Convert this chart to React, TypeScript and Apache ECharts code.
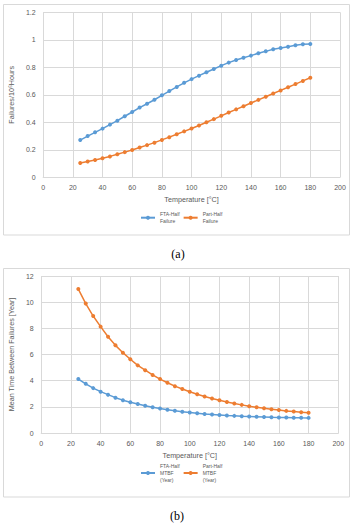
import React, { useEffect, useRef } from "react";
import * as echarts from "echarts";

const temperatures = [25, 30, 35, 40, 45, 50, 55, 60, 65, 70, 75, 80, 85, 90, 95, 100, 105, 110, 115, 120, 125, 130, 135, 140, 145, 150, 155, 160, 165, 170, 175, 180];

const ftaHalfFailure = [0.271, 0.3, 0.327, 0.354, 0.383, 0.412, 0.444, 0.475, 0.507, 0.535, 0.564, 0.596, 0.627, 0.657, 0.687, 0.714, 0.739, 0.764, 0.788, 0.812, 0.834, 0.853, 0.87, 0.885, 0.902, 0.916, 0.931, 0.94, 0.95, 0.96, 0.967, 0.969];
const partHalfFailure = [0.104, 0.115, 0.126, 0.138, 0.152, 0.167, 0.183, 0.199, 0.217, 0.234, 0.252, 0.272, 0.292, 0.313, 0.334, 0.355, 0.377, 0.4, 0.423, 0.447, 0.471, 0.494, 0.517, 0.54, 0.563, 0.586, 0.609, 0.632, 0.655, 0.678, 0.701, 0.724];

const ftaHalfMtbf = [4.12, 3.76, 3.43, 3.16, 2.93, 2.7, 2.51, 2.35, 2.21, 2.08, 1.97, 1.87, 1.78, 1.7, 1.63, 1.57, 1.51, 1.46, 1.42, 1.38, 1.34, 1.31, 1.28, 1.26, 1.24, 1.22, 1.2, 1.19, 1.18, 1.17, 1.16, 1.155];
const partHalfMtbf = [11.0, 9.89, 8.94, 8.13, 7.36, 6.7, 6.14, 5.64, 5.17, 4.8, 4.44, 4.12, 3.84, 3.58, 3.36, 3.15, 2.96, 2.79, 2.63, 2.5, 2.37, 2.25, 2.15, 2.05, 1.97, 1.89, 1.82, 1.76, 1.69, 1.64, 1.59, 1.54];

const seriesNamesA = ["FTA-Half\nFailure", "Part-Half\nFailure"];
const seriesNamesB = ["FTA-Half\nMTBF\n(Year)", "Part-Half\nMTBF\n(Year)"];
const xAxisTitle = "Temperature [°C]";
const yAxisTitleA = "Failures/10⁶Hours";
const yAxisTitleB = "Mean Time Between Failures [Year]";
const captions = ["(a)", "(b)"];

const BLUE = "#5B9BD5";
const ORANGE = "#ED7D31";
const GRID = "#d9d9d9";
const TXT = "#595959";
const FONT = "Liberation Sans";

const pairs = (ys: number[]) => temperatures.map((t, i) => [t, ys[i]]);

export default function App() {
  const ref = useRef<HTMLDivElement>(null);
  useEffect(() => {
    if (!ref.current) return;
    const chart = echarts.init(ref.current, undefined, { renderer: "svg" });
    const xAxisBase = (gridIndex: number) => ({
      type: "value",
      gridIndex,
      min: 0,
      max: 200,
      interval: 20,
      name: xAxisTitle,
      nameLocation: "middle",
      nameGap: 19,
      nameTextStyle: { fontSize: 7.2, color: TXT, fontFamily: FONT },
      axisLine: { show: true, lineStyle: { color: GRID, width: 1 } },
      axisTick: { show: false },
      axisLabel: { fontSize: 7, color: TXT, fontFamily: FONT, margin: 7 },
      splitLine: { show: true, lineStyle: { color: GRID, width: 1 } },
    });
    const yAxisBase = (gridIndex: number, max: number, interval: number, name: string, gap: number) => ({
      type: "value",
      gridIndex,
      min: 0,
      max,
      interval,
      name,
      nameLocation: "middle",
      nameGap: gap,
      nameTextStyle: { fontSize: 7.2, color: TXT, fontFamily: FONT },
      axisLine: { show: false },
      axisTick: { show: false },
      axisLabel: { fontSize: 7, color: TXT, fontFamily: FONT, margin: 7.5 },
      splitLine: { show: true, lineStyle: { color: GRID, width: 1 } },
    });
    const lineSeries = (name: string, color: string, data: number[][], idx: number) => ({
      type: "line",
      name,
      xAxisIndex: idx,
      yAxisIndex: idx,
      data,
      symbol: "circle",
      symbolSize: 4,
      showSymbol: true,
      lineStyle: { color, width: 1.5 },
      itemStyle: { color },
    });
    const legendBase = (data: string[], top: number, lines: number) => ({
      data,
      left: 140,
      top,
      orient: "horizontal",
      padding: 0,
      itemGap: 3,
      itemWidth: 14,
      itemHeight: 5,
      textStyle: {
        fontSize: 5,
        color: TXT,
        fontFamily: FONT,
        lineHeight: 7.4,
        padding: [(lines - 1) * 7.4, 0, 0, 0],
      },
    });
    chart.setOption({
      animation: false,
      backgroundColor: "#ffffff",
      grid: [
        { left: 40.7, top: 12.3, width: 299.3, height: 165 },
        { left: 37.7, top: 276, width: 300.6, height: 157 },
      ],
      xAxis: [xAxisBase(0), xAxisBase(1)],
      yAxis: [
        yAxisBase(0, 1.2, 0.2, yAxisTitleA, 22),
        yAxisBase(1, 12, 2, yAxisTitleB, 19),
      ],
      legend: [
        legendBase(seriesNamesA, 217.7 - 11.1, 2),
        legendBase(seriesNamesB, 473 - 18.5, 3),
      ],
      series: [
        lineSeries(seriesNamesA[0], BLUE, pairs(ftaHalfFailure), 0),
        lineSeries(seriesNamesA[1], ORANGE, pairs(partHalfFailure), 0),
        lineSeries(seriesNamesB[0], BLUE, pairs(ftaHalfMtbf), 1),
        lineSeries(seriesNamesB[1], ORANGE, pairs(partHalfMtbf), 1),
      ],
      graphic: [
        { type: "rect", silent: true, shape: { x: 3.5, y: 4.5, width: 346, height: 230.5 }, style: { fill: "none", stroke: GRID, lineWidth: 1 }, z: -1 },
        { type: "rect", silent: true, shape: { x: 3.5, y: 268.5, width: 346, height: 228.5 }, style: { fill: "none", stroke: GRID, lineWidth: 1 }, z: -1 },
        { type: "text", x: 178, y: 254, style: { text: captions[0], fontSize: 12, fontFamily: "Liberation Serif", fill: "#000", textAlign: "center", textVerticalAlign: "middle" } },
        { type: "text", x: 177, y: 516, style: { text: captions[1], fontSize: 12, fontFamily: "Liberation Serif", fill: "#000", textAlign: "center", textVerticalAlign: "middle" } },
      ],
    });
    return () => chart.dispose();
  }, []);
  return <div ref={ref} style={{ position: "absolute", left: 0, top: 0, width: 351, height: 530 }} />;
}
